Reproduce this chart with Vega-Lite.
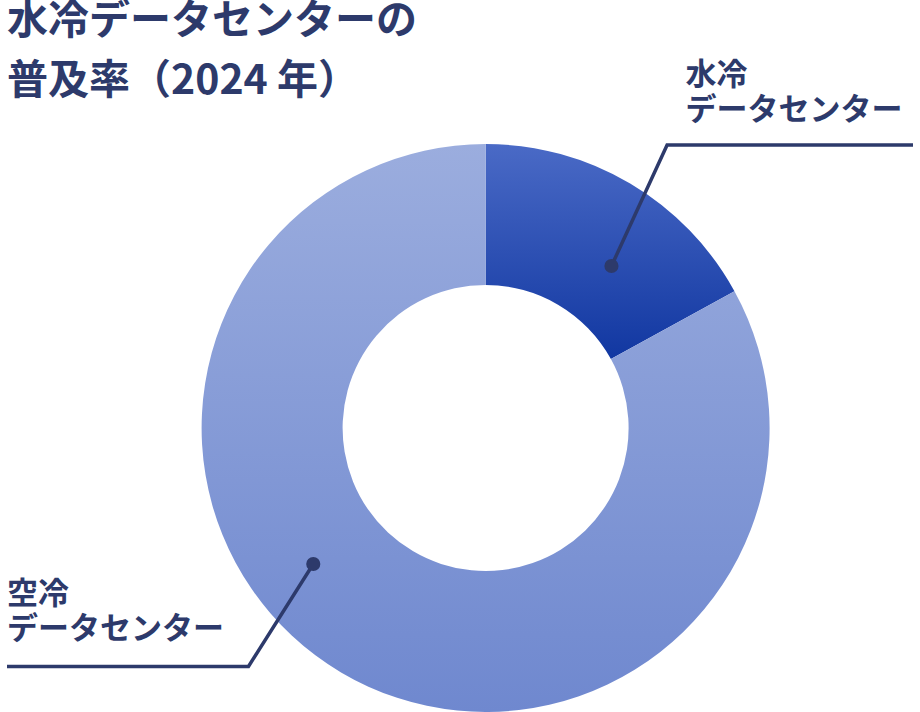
{
  "$schema": "https://vega.github.io/schema/vega-lite/v6.json",
  "width": 920,
  "height": 712,
  "autosize": {"type": "fit", "contains": "padding"},
  "padding": 0,
  "background": "white",
  "config": {"view": {"stroke": null}, "font": "Noto Sans CJK JP"},
  "datasets": {
    "share": [
      {"kind": "水冷", "order": 1, "share": 17},
      {"kind": "空冷", "order": 2, "share": 83}
    ],
    "leaders": [
      {"grp": "水冷", "step": 0, "x": 613.8, "y": 266},
      {"grp": "水冷", "step": 1, "x": 670.3, "y": 145},
      {"grp": "水冷", "step": 2, "x": 920, "y": 145},
      {"grp": "空冷", "step": 0, "x": 311, "y": 564},
      {"grp": "空冷", "step": 1, "x": 245.2, "y": 666.5},
      {"grp": "空冷", "step": 2, "x": 0, "y": 666.5}
    ],
    "labels": [
      {"text": "水冷\nデータセンター", "x": 689, "y": 75.5},
      {"text": "空冷\nデータセンター", "x": 0, "y": 594.5}
    ],
    "titles": [
      {"text": "水冷データセンターの\n普及率（2024 年）", "x": 0, "y": 22}
    ]
  },
  "layer": [
    {
      "data": {"name": "share"},
      "mark": {"type": "arc", "outerRadius": 284, "innerRadius": 143},
      "encoding": {
        "theta": {"field": "share", "type": "quantitative", "stack": true},
        "order": {"field": "order"},
        "x": {"datum": 486, "type": "quantitative", "scale": {"domain": [0, 920], "nice": false, "zero": false}, "axis": null},
        "y": {"datum": 428, "type": "quantitative", "scale": {"domain": [0, 712], "nice": false, "zero": false, "reverse": true}, "axis": null},
        "color": {
          "condition": {
            "test": "datum.kind === '水冷'",
            "value": {
              "gradient": "linear", "x1": 0, "y1": 0, "x2": 0, "y2": 1,
              "stops": [{"offset": 0, "color": "#4a6ac6"}, {"offset": 1, "color": "#1137a1"}]
            }
          },
          "value": {
            "gradient": "linear", "x1": 0, "y1": 0, "x2": 0, "y2": 1,
            "stops": [{"offset": 0, "color": "#9badde"}, {"offset": 1, "color": "#6f88cf"}]
          }
        }
      }
    },
    {
      "data": {"name": "leaders"},
      "mark": {"type": "line", "stroke": "#2d3a6b", "strokeWidth": 3.5},
      "encoding": {
        "x": {"field": "x", "type": "quantitative", "scale": {"domain": [0, 920], "nice": false, "zero": false}, "axis": null},
        "y": {"field": "y", "type": "quantitative", "scale": {"domain": [0, 712], "nice": false, "zero": false, "reverse": true}, "axis": null},
        "detail": {"field": "grp"},
        "order": {"field": "step"}
      }
    },
    {
      "data": {"name": "leaders"},
      "transform": [{"filter": "datum.step === 0"}],
      "mark": {"type": "point", "filled": true, "opacity": 1, "size": 200, "color": "#2d3a6b"},
      "encoding": {
        "x": {"field": "x", "type": "quantitative", "scale": {"domain": [0, 920], "nice": false, "zero": false}, "axis": null},
        "y": {"field": "y", "type": "quantitative", "scale": {"domain": [0, 712], "nice": false, "zero": false, "reverse": true}, "axis": null}
      }
    },
    {
      "data": {"name": "labels"},
      "mark": {"type": "text", "align": "left", "baseline": "middle", "lineBreak": "\n", "lineHeight": 35, "fontSize": 31, "fontWeight": "bold", "color": "#2d3a6b", "font": "Noto Sans CJK JP"},
      "encoding": {
        "x": {"field": "x", "type": "quantitative", "scale": {"domain": [0, 920], "nice": false, "zero": false}, "axis": null},
        "y": {"field": "y", "type": "quantitative", "scale": {"domain": [0, 712], "nice": false, "zero": false, "reverse": true}, "axis": null},
        "text": {"field": "text"}
      }
    },
    {
      "data": {"name": "titles"},
      "mark": {"type": "text", "align": "left", "baseline": "middle", "lineBreak": "\n", "lineHeight": 60, "fontSize": 41, "fontWeight": "bold", "color": "#2d3a6b", "font": "Noto Sans CJK JP"},
      "encoding": {
        "x": {"field": "x", "type": "quantitative", "scale": {"domain": [0, 920], "nice": false, "zero": false}, "axis": null},
        "y": {"field": "y", "type": "quantitative", "scale": {"domain": [0, 712], "nice": false, "zero": false, "reverse": true}, "axis": null},
        "text": {"field": "text"}
      }
    }
  ]
}
